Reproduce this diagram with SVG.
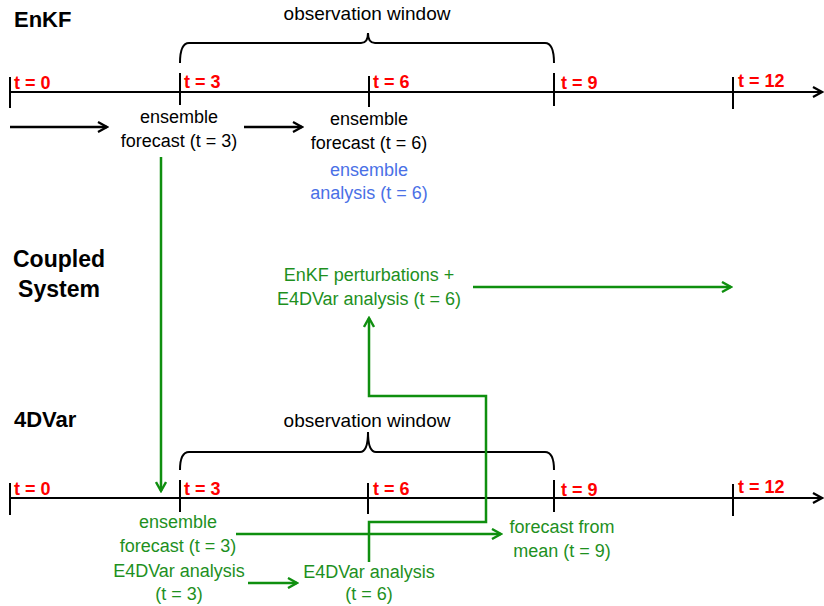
<svg xmlns="http://www.w3.org/2000/svg" width="824" height="606" viewBox="0 0 824 606">
<style>
text{font-family:"Liberation Sans",Arial,sans-serif}
.t{font-size:18px;text-anchor:middle}
.k{fill:#000}
.g{fill:#1e901e}
.b{fill:#4a70e6}
.h{font-weight:bold;font-size:22px;fill:#000}
.r{font-weight:bold;font-size:18px;fill:#ff0000}
.ax{stroke:#000;stroke-width:2;fill:none}
.bl{stroke:#000;stroke-width:2.5;fill:none}
.gl{stroke:#0f8f0f;stroke-width:2.5;fill:none}
.br{stroke:#000;stroke-width:2;fill:none}
</style>
<defs>
<marker id="ak" viewBox="0 0 12 12" refX="10" refY="6" markerWidth="12" markerHeight="12" markerUnits="userSpaceOnUse" orient="auto">
<path d="M1,1 L10,6 L1,11" fill="none" stroke="#000" stroke-width="2.2"/>
</marker>
<marker id="ag" viewBox="0 0 12 12" refX="10" refY="6" markerWidth="12" markerHeight="12" markerUnits="userSpaceOnUse" orient="auto">
<path d="M1,1 L10,6 L1,11" fill="none" stroke="#0f8f0f" stroke-width="2.4"/>
</marker>
</defs>
<rect width="824" height="606" fill="#fff"/>

<g id="enkf-timeline">
<line class="ax" x1="10" y1="92" x2="822" y2="92" marker-end="url(#ak)"/>
<line class="ax" x1="10" y1="77" x2="10" y2="108"/>
<line class="ax" x1="180" y1="73" x2="180" y2="105"/>
<line class="ax" x1="369" y1="76" x2="369" y2="107"/>
<line class="ax" x1="554" y1="73" x2="554" y2="106"/>
<line class="ax" x1="733" y1="77" x2="733" y2="109"/>
<text class="r" x="14" y="89">t = 0</text>
<text class="r" x="184" y="88">t = 3</text>
<text class="r" x="373" y="88">t = 6</text>
<text class="r" x="561" y="89">t = 9</text>
<text class="r" x="738" y="87">t = 12</text>
</g>

<g id="enkf-window">
<path class="br" d="M180,63 Q180,43 189,43 L361,43 Q368,43 368,33 Q368,43 375,43 L545,43 Q554,43 554,63"/>
<text class="t k" x="367" y="20" style="font-size:19px">observation window</text>
</g>

<g id="label-enkf"><text class="h" x="14" y="27">EnKF</text></g>
<g id="label-coupled">
<text class="h" x="59" y="267" text-anchor="middle" style="font-size:23px">Coupled</text>
<text class="h" x="59" y="297" text-anchor="middle" style="font-size:23px">System</text>
</g>
<g id="label-4dvar"><text class="h" x="14" y="427">4DVar</text></g>

<g id="enkf-forecast-3">
<text class="t k" x="179" y="123">ensemble</text>
<text class="t k" x="179" y="147">forecast (t = 3)</text>
</g>
<g id="enkf-forecast-6">
<text class="t k" x="369" y="125">ensemble</text>
<text class="t k" x="369" y="149">forecast (t = 6)</text>
</g>
<g id="enkf-analysis-6">
<text class="t b" x="369" y="176">ensemble</text>
<text class="t b" x="369" y="199">analysis (t = 6)</text>
</g>

<g id="coupled-analysis">
<text class="t g" x="369" y="281">EnKF perturbations +</text>
<text class="t g" x="369" y="305">E4DVar analysis (t = 6)</text>
</g>

<g id="fourdvar-timeline">
<line class="ax" x1="10" y1="498" x2="822" y2="498" marker-end="url(#ak)"/>
<line class="ax" x1="10" y1="483" x2="10" y2="515"/>
<line class="ax" x1="180" y1="480" x2="180" y2="512"/>
<line class="ax" x1="368" y1="483" x2="368" y2="514"/>
<line class="ax" x1="554" y1="480" x2="554" y2="512"/>
<line class="ax" x1="733" y1="484" x2="733" y2="516"/>
<text class="r" x="14" y="495">t = 0</text>
<text class="r" x="184" y="495">t = 3</text>
<text class="r" x="373" y="495">t = 6</text>
<text class="r" x="561" y="496">t = 9</text>
<text class="r" x="738" y="493">t = 12</text>
</g>

<g id="fourdvar-window">
<path class="br" d="M180,470 Q180,452 189,452 L360,452 Q368,452 368,432 Q368,452 376,452 L545,452 Q554,452 554,470"/>
<text class="t k" x="367" y="427" style="font-size:19px">observation window</text>
</g>

<g id="fourdvar-ensemble-forecast-3">
<text class="t g" x="178" y="528">ensemble</text>
<text class="t g" x="178" y="552">forecast (t = 3)</text>
</g>
<g id="fourdvar-analysis-3">
<text class="t g" x="179" y="577">E4DVar analysis</text>
<text class="t g" x="179" y="600">(t = 3)</text>
</g>
<g id="fourdvar-analysis-6">
<text class="t g" x="369" y="578">E4DVar analysis</text>
<text class="t g" x="369" y="600">(t = 6)</text>
</g>
<g id="forecast-mean-9">
<text class="t g" x="562" y="533">forecast from</text>
<text class="t g" x="562" y="557">mean (t = 9)</text>
</g>

<g id="connectors">
<line class="bl" x1="10" y1="127" x2="107" y2="127" marker-end="url(#ak)"/>
<line class="bl" x1="244" y1="127" x2="302" y2="127" marker-end="url(#ak)"/>
<line class="gl" x1="161" y1="157" x2="161" y2="491" marker-end="url(#ag)"/>
<line class="gl" x1="473" y1="287" x2="731" y2="287" marker-end="url(#ag)"/>
<path class="gl" d="M369,562 L369,522 L486,522 L486,396 L369,396 L369,318" marker-end="url(#ag)"/>
<line class="gl" x1="236" y1="534" x2="501" y2="534" marker-end="url(#ag)"/>
<line class="gl" x1="248" y1="583" x2="297" y2="583" marker-end="url(#ag)"/>
</g>
</svg>
